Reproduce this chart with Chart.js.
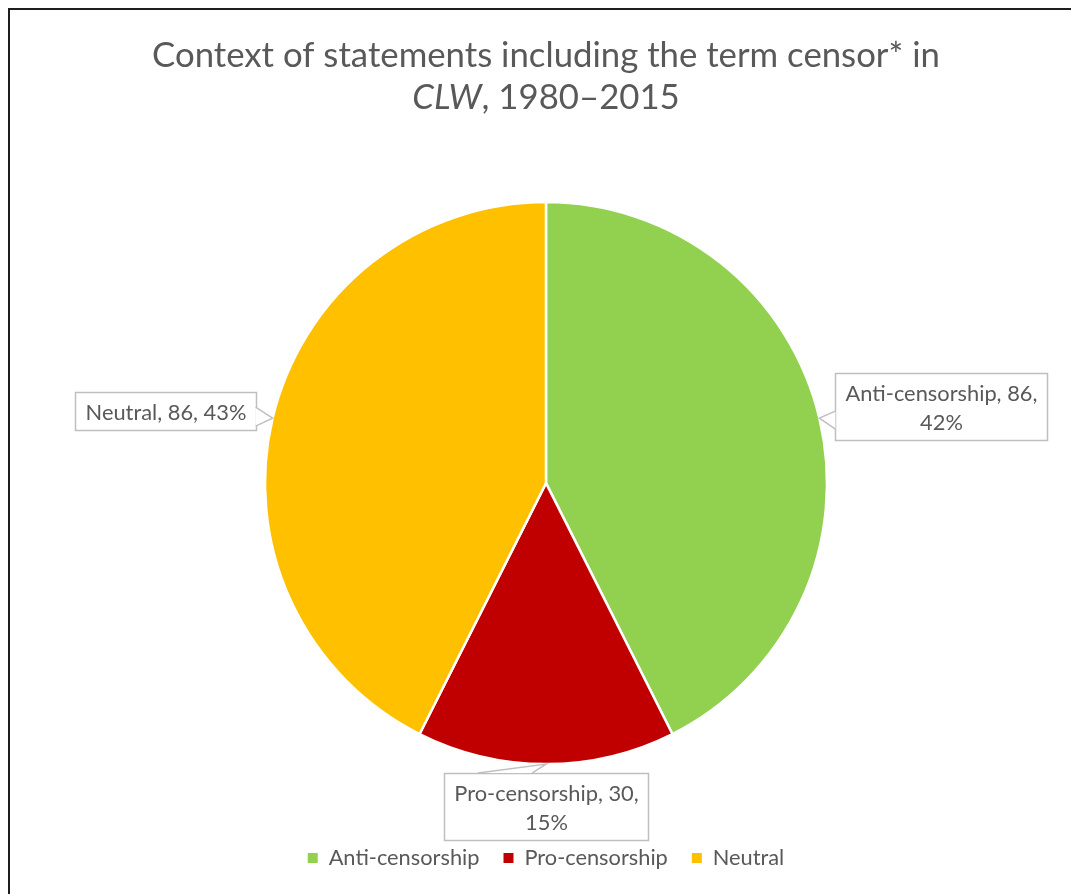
<!DOCTYPE html>
<html>
<head>
<meta charset="utf-8">
<script src="https://cdn.jsdelivr.net/npm/chart.js@4.4.1/dist/chart.umd.min.js"></script>
<style>
  html, body { margin: 0; padding: 0; background: #fff; overflow: hidden; }
  #frame {
    position: absolute; left: 8px; top: 8px; width: 1100px; height: 920px;
    border-left: 2px solid #1e1e1e; border-top: 2px solid #1e1e1e;
  }
  #wrap { position: absolute; left: 0; top: 0; width: 1071px; height: 894px; }
</style>
</head>
<body>
<div id="frame"></div>
<div id="wrap"><canvas id="pieChart" width="1071" height="894"></canvas></div>
<script>
const categories = ["Anti-censorship", "Pro-censorship", "Neutral"];
const counts = [86, 30, 86];
const percentLabels = ["42%", "15%", "43%"];
const sliceColors = ["#92D050", "#C00000", "#FFC000"];
const titleLine1 = "Context of statements including the term censor* in";
const titleItalic = "CLW";
const titleRest = ", 1980–2015";

const textGray = "#595959";
const fontFamily = "Lato, 'Open Sans', sans-serif";

// the reference uses Calibri; pick Lato sizes that give the same text widths
function fitSize(text, targetWidth, style = "") {
  const ctx = document.createElement("canvas").getContext("2d");
  ctx.font = `${style} 20px ${fontFamily}`;
  return 20 * targetWidth / ctx.measureText(text).width;
}
const titleSize = fitSize(titleLine1, 788);
const labelSize = fitSize("Anti-censorship, 86,", 192);
const legendSize = fitSize("Anti-censorship", 151);

// === TITLE (two lines, CLW in italic) ===
const titlePlugin = {
  id: "twoLineTitle",
  afterDraw(chart) {
    const ctx = chart.ctx;
    const cx = (chart.chartArea.left + chart.chartArea.right) / 2;
    const normal = `${titleSize}px ${fontFamily}`;
    const italic = `italic ${titleSize}px ${fontFamily}`;
    ctx.save();
    ctx.fillStyle = textGray;
    ctx.textBaseline = "alphabetic";

    ctx.font = normal;
    ctx.textAlign = "center";
    ctx.fillText(titleLine1, cx, 67);

    ctx.font = italic;
    const wItalic = ctx.measureText(titleItalic).width;
    ctx.font = normal;
    const wRest = ctx.measureText(titleRest).width;
    const startX = cx - (wItalic + wRest) / 2;
    ctx.textAlign = "left";
    ctx.font = italic;
    ctx.fillText(titleItalic, startX, 109);
    ctx.font = normal;
    ctx.fillText(titleRest, startX + wItalic, 109);
    ctx.restore();
  }
};

function wrapText(ctx, text, maxWidth) {
  const words = text.split(" ");
  const lines = [];
  let line = "";
  words.forEach(word => {
    const test = line ? `${line} ${word}` : word;
    if (line && ctx.measureText(test).width > maxWidth) {
      lines.push(line);
      line = word;
    } else {
      line = test;
    }
  });
  if (line) lines.push(line);
  return lines;
}

// === CALLOUT LABELS ===
const calloutPlugin = {
  id: "callouts",
  afterDatasetsDraw(chart) {
    const ctx = chart.ctx;
    const meta = chart.getDatasetMeta(0);
    const lineH = 29;
    const padX = 10;
    const padY = 4.5;

    ctx.save();
    ctx.font = `${labelSize}px ${fontFamily}`;
    meta.data.forEach((arc, i) => {
      const { x, y, startAngle, endAngle, outerRadius } =
        arc.getProps(["x", "y", "startAngle", "endAngle", "outerRadius"], true);
      const mid = (startAngle + endAngle) / 2;
      const tipX = x + Math.cos(mid) * outerRadius;
      const tipY = y + Math.sin(mid) * outerRadius;

      const text = `${categories[i]}, ${counts[i]}, ${percentLabels[i]}`;
      const lines = wrapText(ctx, text, 205);
      const textW = Math.max(...lines.map(l => ctx.measureText(l).width));
      const boxW = Math.round(textW + padX * 2);
      const boxH = Math.round(lines.length * lineH + padY * 2);

      let left, top, pointer;
      if (Math.cos(mid) > 0.5) {
        left = tipX + 16;
        top = tipY - 12 - boxH / 2;
        pointer = [[left, tipY - 7], [tipX, tipY], [left, tipY + 11]];
      } else if (Math.cos(mid) < -0.5) {
        left = tipX - 17 - boxW;
        top = tipY - 7 - boxH / 2;
        pointer = [[left + boxW, tipY - 11], [tipX, tipY], [left + boxW, tipY + 8]];
      } else {
        left = tipX - boxW / 2;
        top = tipY + 9;
        pointer = [[tipX - 68, top], [tipX, tipY], [tipX - 14, top]];
      }
      left = Math.round(left) + 0.5;
      top = Math.round(top) + 0.5;

      ctx.fillStyle = "#ffffff";
      ctx.strokeStyle = "#BFBFBF";
      ctx.lineWidth = 1.5;
      ctx.fillRect(left, top, boxW, boxH);
      ctx.strokeRect(left, top, boxW, boxH);

      ctx.beginPath();
      ctx.moveTo(pointer[0][0], pointer[0][1]);
      ctx.lineTo(pointer[1][0], pointer[1][1]);
      ctx.lineTo(pointer[2][0], pointer[2][1]);
      ctx.closePath();
      ctx.fill();
      ctx.beginPath();
      ctx.moveTo(pointer[0][0], pointer[0][1]);
      ctx.lineTo(pointer[1][0], pointer[1][1]);
      ctx.lineTo(pointer[2][0], pointer[2][1]);
      ctx.stroke();

      ctx.fillStyle = textGray;
      ctx.textAlign = "center";
      ctx.textBaseline = "middle";
      lines.forEach((l, k) => {
        ctx.fillText(l, left + boxW / 2, top + padY + lineH * k + lineH / 2 + 1);
      });
    });
    ctx.restore();
  }
};

// === CHART ===
new Chart(document.getElementById("pieChart"), {
  type: "pie",
  data: {
    labels: categories,
    datasets: [{
      data: counts,
      backgroundColor: sliceColors,
      borderColor: "#ffffff",
      borderWidth: 2.5,
      radius: 281
    }]
  },
  options: {
    responsive: false,
    animation: false,
    layout: { padding: { left: 21, top: 143, bottom: 15 } },
    plugins: {
      tooltip: { enabled: false },
      title: { display: false },
      legend: {
        position: "bottom",
        labels: {
          color: textGray,
          font: { family: fontFamily, size: legendSize },
          boxWidth: 10,
          boxHeight: 10,
          padding: 24,
          generateLabels() {
            return categories.map((name, i) => ({
              text: name,
              fillStyle: sliceColors[i],
              strokeStyle: sliceColors[i],
              lineWidth: 0,
              fontColor: textGray,
              index: i
            }));
          }
        }
      }
    }
  },
  plugins: [titlePlugin, calloutPlugin]
});
</script>
</body>
</html>
